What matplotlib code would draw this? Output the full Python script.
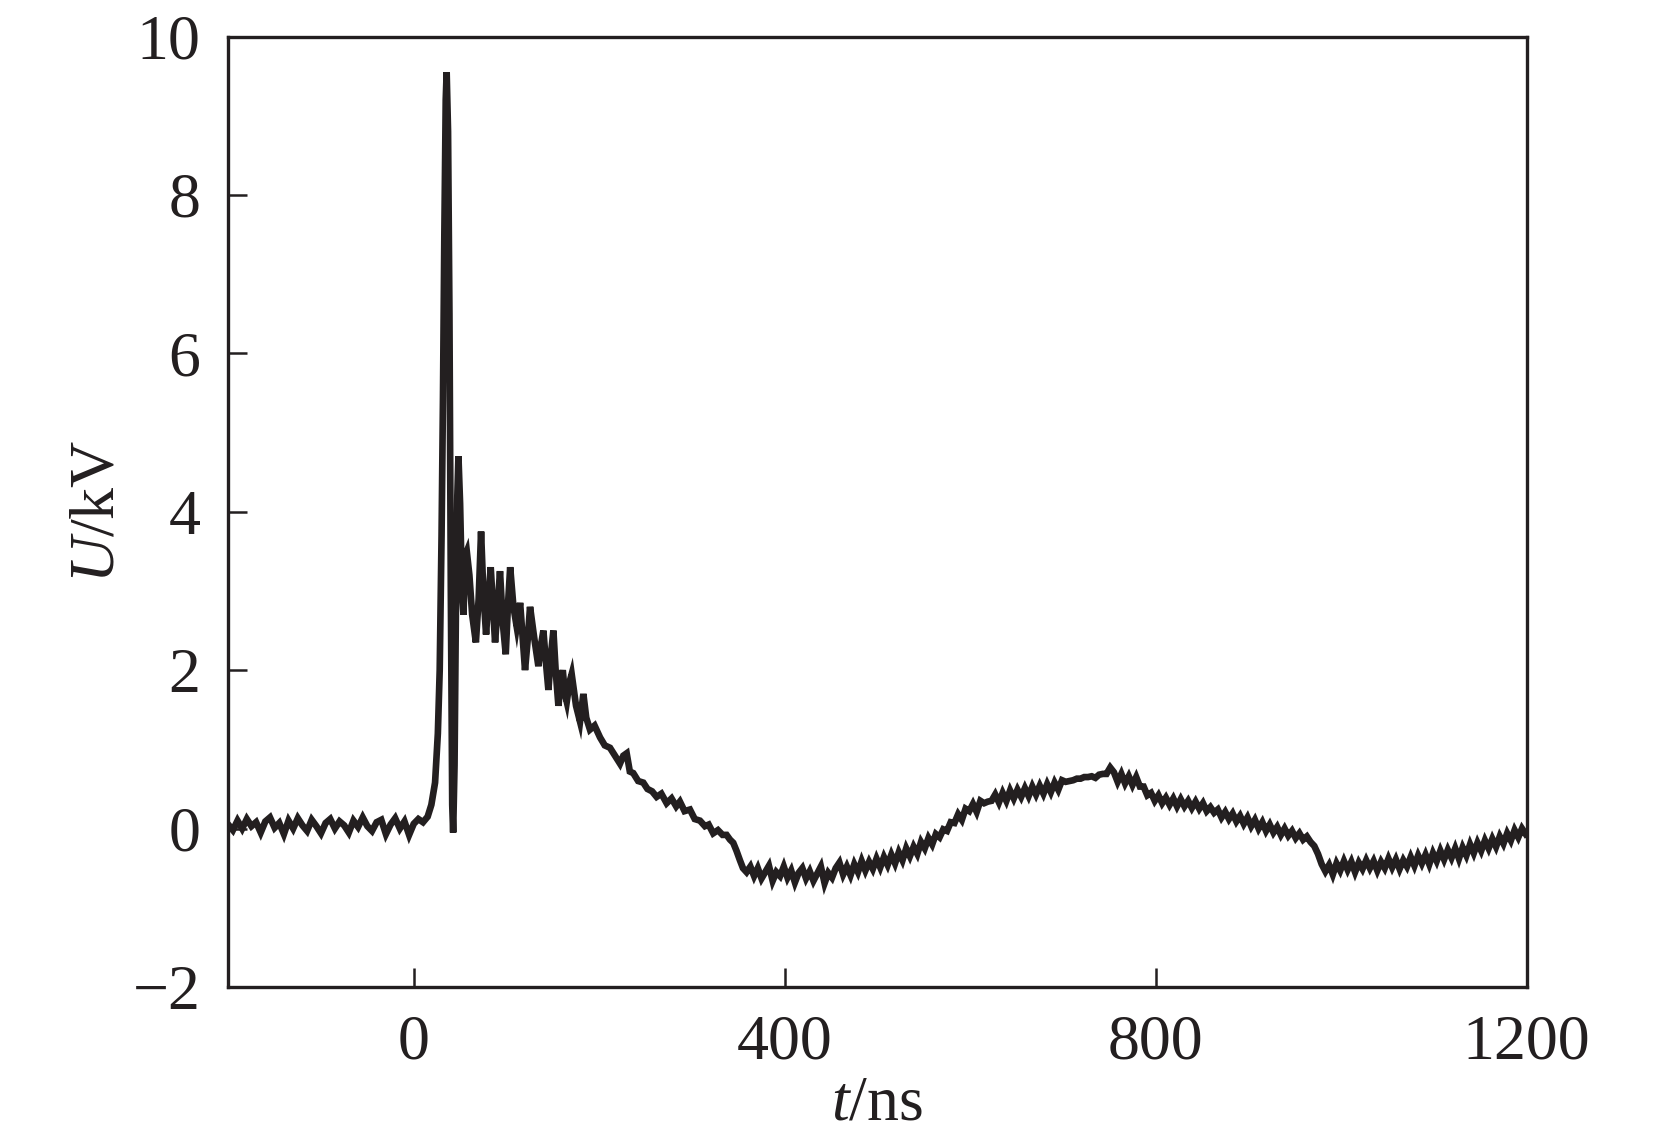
import numpy as np
import matplotlib
matplotlib.use("Agg")
import matplotlib.pyplot as plt

# --- data (t in ns, U in kV) ---
t_base = [-200, -195, -190, -185, -180, -175, -170, -165, -160, -155,
          -150, -145, -140, -135, -130, -125, -120, -115, -110, -105,
          -100, -95, -90, -85, -80, -75, -70, -65, -60, -55,
          -50, -45, -40, -35, -30, -25, -20, -15, -10, -5,
          0, 5, 10]
u_base = [0.05, -0.02, 0.10, 0.00, 0.12, 0.03, 0.08, -0.05, 0.09, 0.14,
          0.01, 0.07, -0.07, 0.10, 0.00, 0.13, 0.04, -0.03, 0.11, 0.03,
          -0.06, 0.07, 0.12, 0.00, 0.09, 0.04, -0.05, 0.10, 0.02, 0.14,
          0.03, -0.03, 0.08, 0.11, -0.07, 0.05, 0.13, 0.00, 0.09, -0.08,
          0.06, 0.12, 0.08]

t_pulse = [15, 19, 23, 26, 28, 30, 31.5, 33, 34.5, 35.5,
           37, 38.5, 40, 41.5, 42.5, 44, 45.5, 47, 48.2, 50,
           52, 53.6, 55.5, 57.2, 60, 63, 67, 70, 72.6, 75,
           78, 80.5, 83, 85.5, 87.7, 90.5, 93, 96, 99.2, 101.5,
           104, 107.5, 111, 114.7, 117.5, 120, 123, 125.4, 130, 134.4,
           137, 139.8, 142.5, 145.2, 148, 150.6, 153, 156, 158.5, 160.7,
           163, 165, 168, 170.3, 175, 179.3, 182.9, 186, 190, 195]
u_pulse = [0.15, 0.30, 0.58, 1.2, 2.0, 3.7, 5.4, 7.5, 9.2, 9.55,
           8.8, 6.5, 3.0, 0.3, -0.05, 0.8, 2.8, 4.2, 4.7, 4.1,
           3.0, 2.7, 3.45, 3.5, 3.2, 2.7, 2.35, 2.9, 3.75, 3.0,
           2.45, 2.9, 3.3, 2.8, 2.35, 2.8, 3.25, 2.6, 2.2, 2.8,
           3.3, 2.8, 2.55, 2.85, 2.4, 2.0, 2.4, 2.8, 2.4, 2.05,
           2.3, 2.5, 2.1, 1.75, 2.2, 2.5, 2.0, 1.55, 1.85, 2.0,
           1.7, 1.6, 1.85, 1.95, 1.55, 1.35, 1.7, 1.4, 1.25, 1.3]

t_decay = [200.9, 206, 211.6, 217, 222.4, 226, 229.6, 233, 236.7, 242,
           247.5, 252, 257, 261.9, 267, 272.7, 278, 283, 287, 292,
           297.8, 303, 308.6, 314, 318, 322.9, 328, 333, 337.3, 341,
           344.5, 348, 351.7, 355, 358.9]
u_decay = [1.15, 1.05, 1.02, 0.92, 0.82, 0.92, 0.95, 0.72, 0.70, 0.60,
           0.58, 0.50, 0.47, 0.40, 0.44, 0.32, 0.38, 0.28, 0.34, 0.22,
           0.24, 0.12, 0.10, 0.03, 0.05, -0.06, -0.02, -0.08, -0.08, -0.14,
           -0.18, -0.28, -0.40, -0.50, -0.55]

t_swing = [363, 367, 371, 375, 379, 383, 387, 391, 395, 399,
           403, 407, 411, 415, 419, 423, 427, 431, 435, 439,
           443, 447, 451, 455, 459, 463, 467, 471, 475, 479,
           483, 487, 491, 495, 499, 503, 507, 511, 515, 519,
           523, 527, 531, 535, 539, 543, 547, 551, 555, 559,
           563, 567, 571, 575, 579, 583, 587, 591, 595, 599,
           603, 607, 611, 615, 619, 623, 627, 631, 635, 639,
           643, 647, 651, 655, 659, 663, 667, 671, 675, 679,
           683, 687, 691, 695, 699, 703, 707, 711, 715, 719,
           723, 727, 731, 735, 739, 743, 747, 751, 755, 759,
           763, 767, 771, 775, 779, 783, 787, 791, 795, 799]
u_swing = [-0.48, -0.60, -0.50, -0.63, -0.55, -0.47, -0.66, -0.55, -0.60, -0.48,
           -0.62, -0.53, -0.68, -0.56, -0.50, -0.63, -0.54, -0.66, -0.57, -0.48,
           -0.69, -0.56, -0.62, -0.50, -0.43, -0.58, -0.48, -0.59, -0.45, -0.55,
           -0.41, -0.53, -0.42, -0.51, -0.38, -0.49, -0.36, -0.46, -0.33, -0.44,
           -0.30, -0.40, -0.25, -0.35, -0.23, -0.32, -0.17, -0.25, -0.12, -0.20,
           -0.07, -0.11, -0.01, -0.03, 0.08, 0.07, 0.18, 0.11, 0.25, 0.22,
           0.31, 0.21, 0.35, 0.32, 0.34, 0.35, 0.43, 0.33, 0.45, 0.35,
           0.48, 0.38, 0.49, 0.40, 0.51, 0.41, 0.53, 0.43, 0.54, 0.44,
           0.56, 0.46, 0.58, 0.49, 0.61, 0.59, 0.60, 0.61, 0.63, 0.63,
           0.65, 0.65, 0.66, 0.64, 0.68, 0.69, 0.69, 0.77, 0.71, 0.59,
           0.69, 0.57, 0.66, 0.55, 0.65, 0.53, 0.53, 0.42, 0.45, 0.35]

t_late = [803, 807, 811, 815, 819, 823, 827, 831, 835, 839,
          843, 847, 851, 855, 859, 863, 867, 871, 875, 879,
          883, 887, 891, 895, 899, 903, 907, 911, 915, 919,
          923, 927, 931, 935, 939, 943, 947, 951, 955, 959,
          963, 967, 971, 975, 979, 983, 987, 991, 995, 999,
          1003, 1007, 1011, 1015, 1019, 1023, 1027, 1031, 1035, 1039,
          1043, 1047, 1051, 1055, 1059, 1063, 1067, 1071, 1075, 1079,
          1083, 1087, 1091, 1095, 1099, 1103, 1107, 1111, 1115, 1119,
          1123, 1127, 1131, 1135, 1139, 1143, 1147, 1151, 1155, 1159,
          1163, 1167, 1171, 1175, 1179, 1183, 1187, 1191, 1195, 1199]
u_late = [0.42, 0.32, 0.39, 0.30, 0.38, 0.28, 0.37, 0.28, 0.35, 0.26,
          0.34, 0.25, 0.32, 0.22, 0.27, 0.20, 0.24, 0.14, 0.21, 0.12,
          0.19, 0.09, 0.16, 0.06, 0.14, 0.03, 0.11, 0.00, 0.08, -0.03,
          0.05, -0.05, 0.02, -0.08, 0.00, -0.09, -0.03, -0.12, -0.06, -0.14,
          -0.10, -0.17, -0.22, -0.32, -0.45, -0.54, -0.46, -0.58, -0.44, -0.53,
          -0.41, -0.52, -0.42, -0.55, -0.43, -0.51, -0.40, -0.50, -0.41, -0.53,
          -0.42, -0.50, -0.38, -0.49, -0.39, -0.51, -0.40, -0.48, -0.36, -0.47,
          -0.34, -0.44, -0.33, -0.45, -0.31, -0.41, -0.28, -0.39, -0.27, -0.37,
          -0.25, -0.38, -0.24, -0.34, -0.20, -0.31, -0.18, -0.28, -0.15, -0.25,
          -0.13, -0.23, -0.10, -0.19, -0.06, -0.15, -0.02, -0.11, 0.00, -0.07]

t = np.concatenate([t_base, t_pulse, t_decay, t_swing, t_late])
u = np.concatenate([u_base, u_pulse, u_decay, u_swing, u_late])

plt.rcParams['font.family'] = ['Liberation Serif', 'DejaVu Serif']
plt.rcParams['mathtext.fontset'] = 'custom'
plt.rcParams['mathtext.rm'] = 'Liberation Serif'
plt.rcParams['mathtext.it'] = 'Liberation Serif:italic'

ink = '#231f20'

fig = plt.figure(figsize=(16.54, 11.41), dpi=100)
ax = fig.add_axes([0.138, 0.135, 0.785, 0.833])

ax.plot(t, u, color=ink, lw=4.8, solid_joinstyle='miter')

ax.set_xlim(-200, 1200)
ax.set_ylim(-2, 10)
ax.set_xticks([0, 400, 800, 1200])
ax.set_yticks([-2, 0, 2, 4, 6, 8, 10])

for sp in ax.spines.values():
    sp.set_linewidth(2.4)
    sp.set_color(ink)

ax.tick_params(direction='in', length=14, width=1.8, color=ink,
               labelsize=46, labelcolor=ink, pad=20,
               top=False, right=False)

ax.set_xlabel('$\\mathit{t}$/ns', fontsize=46, color=ink, labelpad=2)
ax.set_ylabel('$\\mathit{U}$/kV', fontsize=46, color=ink, labelpad=4)

fig.savefig('out.png', dpi=100)
